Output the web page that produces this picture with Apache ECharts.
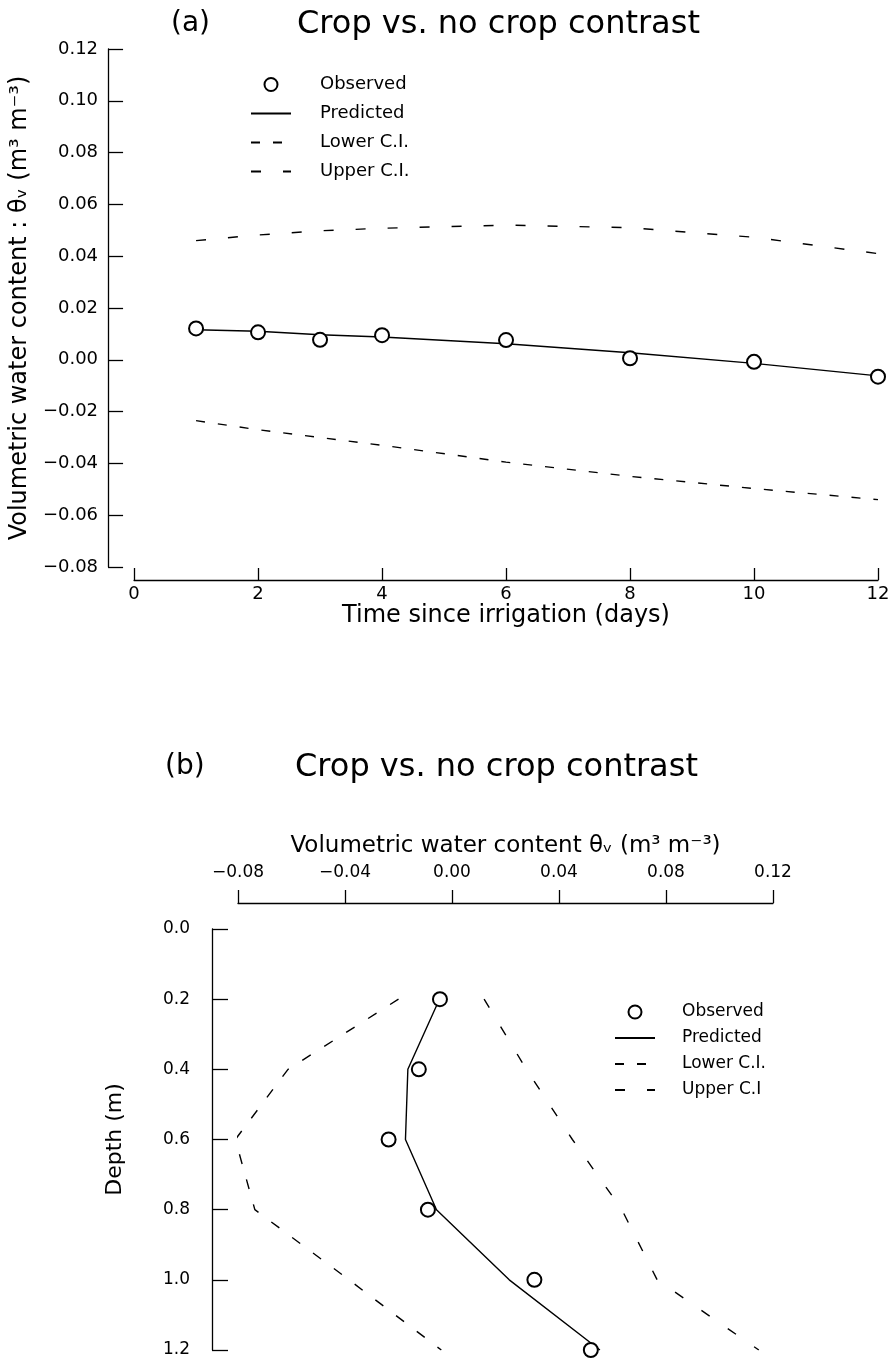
<!DOCTYPE html>
<html><head><meta charset="utf-8">
<script src="https://cdn.jsdelivr.net/npm/echarts@6/dist/echarts.min.js"></script>
<style>html,body{margin:0;padding:0;background:#fff}#c{width:895px;height:1361px}</style>
</head><body><div id="c"></div>
<script>
// ---- Panel (a): time series ----
const daysA = [1, 2, 3, 4, 6, 8, 10, 12];
const observedA = [0.0121, 0.0106, 0.0077, 0.0095, 0.0076, 0.0006, -0.0008, -0.0065];
const predictedA = [0.0116, 0.0110, 0.0097, 0.0088, 0.0062, 0.0027, -0.0014, -0.0062];
const lowerA = [-0.0235, -0.0270, -0.0300, -0.0330, -0.0395, -0.0450, -0.0497, -0.0540];
const upperA = [0.0460, 0.0482, 0.0498, 0.0508, 0.0520, 0.0510, 0.0473, 0.0410];
const xTicksA = [0, 2, 4, 6, 8, 10, 12];
const yTicksA = [-0.08, -0.06, -0.04, -0.02, 0.00, 0.02, 0.04, 0.06, 0.08, 0.10, 0.12];

// ---- Panel (b): depth profile ----
const depthB = [0.2, 0.4, 0.6, 0.8, 1.0, 1.2];
const observedB = [-0.0045, -0.0124, -0.0237, -0.0090, 0.0308, 0.0519];
const predictedB = [-0.0047, -0.0165, -0.0174, -0.0058, 0.0214, 0.0553];
const lowerB = [-0.0200, -0.0613, -0.0810, -0.0737, -0.0385, -0.0040];
const upperB = [0.0120, 0.0278, 0.0450, 0.0635, 0.0767, 0.1147];
const xTicksB = [-0.08, -0.04, 0.00, 0.04, 0.08, 0.12];
const yTicksB = [0.0, 0.2, 0.4, 0.6, 0.8, 1.0, 1.2];

const FONT = 'DejaVu Sans';
const fmt = d => v => (v < -1e-9 ? '\u2212' : '') + Math.abs(v).toFixed(d);
const pairs = (xs, ys) => xs.map((x, i) => [x, ys[i]]);
const pairsB = (vals) => vals.map((v, i) => [v, depthB[i]]);
const axisLine = { show: true, onZero: false, lineStyle: { color: '#000', width: 1.3 } };
const noDot = { color: 'rgba(0,0,0,0)', borderColor: 'rgba(0,0,0,0)', borderWidth: 0 };
const legendItems = (upperName) => [
  { name: 'Observed' },
  { name: 'Predicted', itemStyle: noDot },
  { name: 'Lower C.I.', itemStyle: noDot },
  { name: upperName, itemStyle: noDot }
];
const circleStyle = { color: '#000', borderColor: '#000', borderWidth: 1.4, opacity: 1 };

const chart = echarts.init(document.getElementById('c'), null, { renderer: 'canvas' });
chart.setOption({
  backgroundColor: '#fff',
  animation: false,
  textStyle: { fontFamily: FONT, color: '#000' },
  title: [
    { text: '(a)', left: 166, top: 5, textStyle: { fontFamily: FONT, fontSize: 28, fontWeight: 'normal', color: '#000' } },
    { text: 'Crop vs. no crop contrast', left: 292, top: 4, textStyle: { fontFamily: FONT, fontSize: 32, fontWeight: 'normal', color: '#000' } },
    { text: '(b)', left: 160, top: 748, textStyle: { fontFamily: FONT, fontSize: 28, fontWeight: 'normal', color: '#000' } },
    { text: 'Crop vs. no crop contrast', left: 290, top: 747, textStyle: { fontFamily: FONT, fontSize: 32, fontWeight: 'normal', color: '#000' } }
  ],
  legend: [
    { data: legendItems('Upper C.I.'), orient: 'vertical', left: 245, top: 70,
      itemWidth: 40, itemHeight: 13, itemGap: 10, selectedMode: false,
      textStyle: { fontFamily: FONT, fontSize: 18, lineHeight: 19, color: '#000', padding: [0, 0, 0, 24] } },
    { data: legendItems('Upper C.I'), orient: 'vertical', left: 609, top: 998,
      itemWidth: 40, itemHeight: 13, itemGap: 8, selectedMode: false,
      textStyle: { fontFamily: FONT, fontSize: 17, lineHeight: 18, color: '#000', padding: [0, 0, 0, 22] } }
  ],
  grid: [
    { left: 134, right: 17, top: 49, height: 518 },
    { left: 238, right: 122, top: 929, height: 421 }
  ],
  xAxis: [
    { gridIndex: 0, type: 'value', min: xTicksA[0], max: xTicksA[xTicksA.length - 1], interval: 2,
      offset: 13, axisLine, splitLine: { show: false },
      axisTick: { show: true, inside: true, length: 12, lineStyle: { color: '#000', width: 1.3 } },
      axisLabel: { margin: 5, fontSize: 18, color: '#000', fontFamily: FONT },
      name: 'Time since irrigation (days)', nameLocation: 'middle', nameGap: 22,
      nameTextStyle: { fontSize: 24, color: '#000', fontFamily: FONT } },
    { gridIndex: 1, type: 'value', position: 'top', min: xTicksB[0], max: xTicksB[xTicksB.length - 1], interval: 0.04,
      offset: 26, axisLine, splitLine: { show: false },
      axisTick: { show: true, inside: false, length: 13, lineStyle: { color: '#000', width: 1.3 } },
      axisLabel: { margin: 22, fontSize: 17, color: '#000', fontFamily: FONT, formatter: fmt(2) },
      name: 'Volumetric water content \u03b8\u1d65 (m\u00b3 m\u207b\u00b3)', nameLocation: 'middle', nameGap: 45,
      nameTextStyle: { fontSize: 23, color: '#000', fontFamily: FONT } }
  ],
  yAxis: [
    { gridIndex: 0, type: 'value', min: yTicksA[0], max: yTicksA[yTicksA.length - 1], interval: 0.02,
      offset: 26, axisLine, splitLine: { show: false },
      axisTick: { show: true, inside: true, length: 15, lineStyle: { color: '#000', width: 1.3 } },
      axisLabel: { margin: 10, fontSize: 18, color: '#000', fontFamily: FONT, formatter: fmt(2) },
      name: 'Volumetric water content : \u03b8\u1d65 (m\u00b3 m\u207b\u00b3)', nameLocation: 'middle', nameRotate: 90, nameGap: 72,
      nameTextStyle: { fontSize: 24, color: '#000', fontFamily: FONT } },
    { gridIndex: 1, type: 'value', inverse: true, min: yTicksB[0], max: yTicksB[yTicksB.length - 1], interval: 0.2,
      offset: 26, axisLine, splitLine: { show: false },
      axisTick: { show: true, inside: true, length: 16, lineStyle: { color: '#000', width: 1.3 } },
      axisLabel: { margin: 22, fontSize: 17, color: '#000', fontFamily: FONT, formatter: fmt(1) },
      name: 'Depth (m)', nameLocation: 'middle', nameRotate: 90, nameGap: 86,
      nameTextStyle: { fontSize: 22, color: '#000', fontFamily: FONT } }
  ],
  series: [
    { name: 'Observed', type: 'scatter', xAxisIndex: 0, yAxisIndex: 0, data: pairs(daysA, observedA),
      symbol: 'emptyCircle', symbolSize: 14, itemStyle: circleStyle, z: 5 },
    { name: 'Predicted', type: 'line', xAxisIndex: 0, yAxisIndex: 0, data: pairs(daysA, predictedA),
      showSymbol: false, symbol: 'none', lineStyle: { color: '#000', width: 1.4 }, itemStyle: { color: '#000' } },
    { name: 'Lower C.I.', type: 'line', xAxisIndex: 0, yAxisIndex: 0, data: pairs(daysA, lowerA),
      showSymbol: false, symbol: 'none', lineStyle: { color: '#000', width: 1.4, type: [9, 13] }, itemStyle: { color: '#000' } },
    { name: 'Upper C.I.', type: 'line', xAxisIndex: 0, yAxisIndex: 0, data: pairs(daysA, upperA),
      showSymbol: false, symbol: 'none', lineStyle: { color: '#000', width: 1.4, type: [10, 22] }, itemStyle: { color: '#000' } },

    { name: 'Observed', type: 'scatter', xAxisIndex: 1, yAxisIndex: 1, data: pairsB(observedB),
      symbol: 'emptyCircle', symbolSize: 14, itemStyle: circleStyle, z: 5 },
    { name: 'Predicted', type: 'line', xAxisIndex: 1, yAxisIndex: 1, data: pairsB(predictedB),
      showSymbol: false, symbol: 'none', lineStyle: { color: '#000', width: 1.4 }, itemStyle: { color: '#000' } },
    { name: 'Lower C.I.', type: 'line', xAxisIndex: 1, yAxisIndex: 1, data: pairsB(lowerB),
      showSymbol: false, symbol: 'none', lineStyle: { color: '#000', width: 1.4, type: [10, 16] }, itemStyle: { color: '#000' } },
    { name: 'Upper C.I', type: 'line', xAxisIndex: 1, yAxisIndex: 1, data: pairsB(upperB),
      showSymbol: false, symbol: 'none', lineStyle: { color: '#000', width: 1.4, type: [10, 22] }, itemStyle: { color: '#000' } }
  ]
});
</script>
</body></html>
